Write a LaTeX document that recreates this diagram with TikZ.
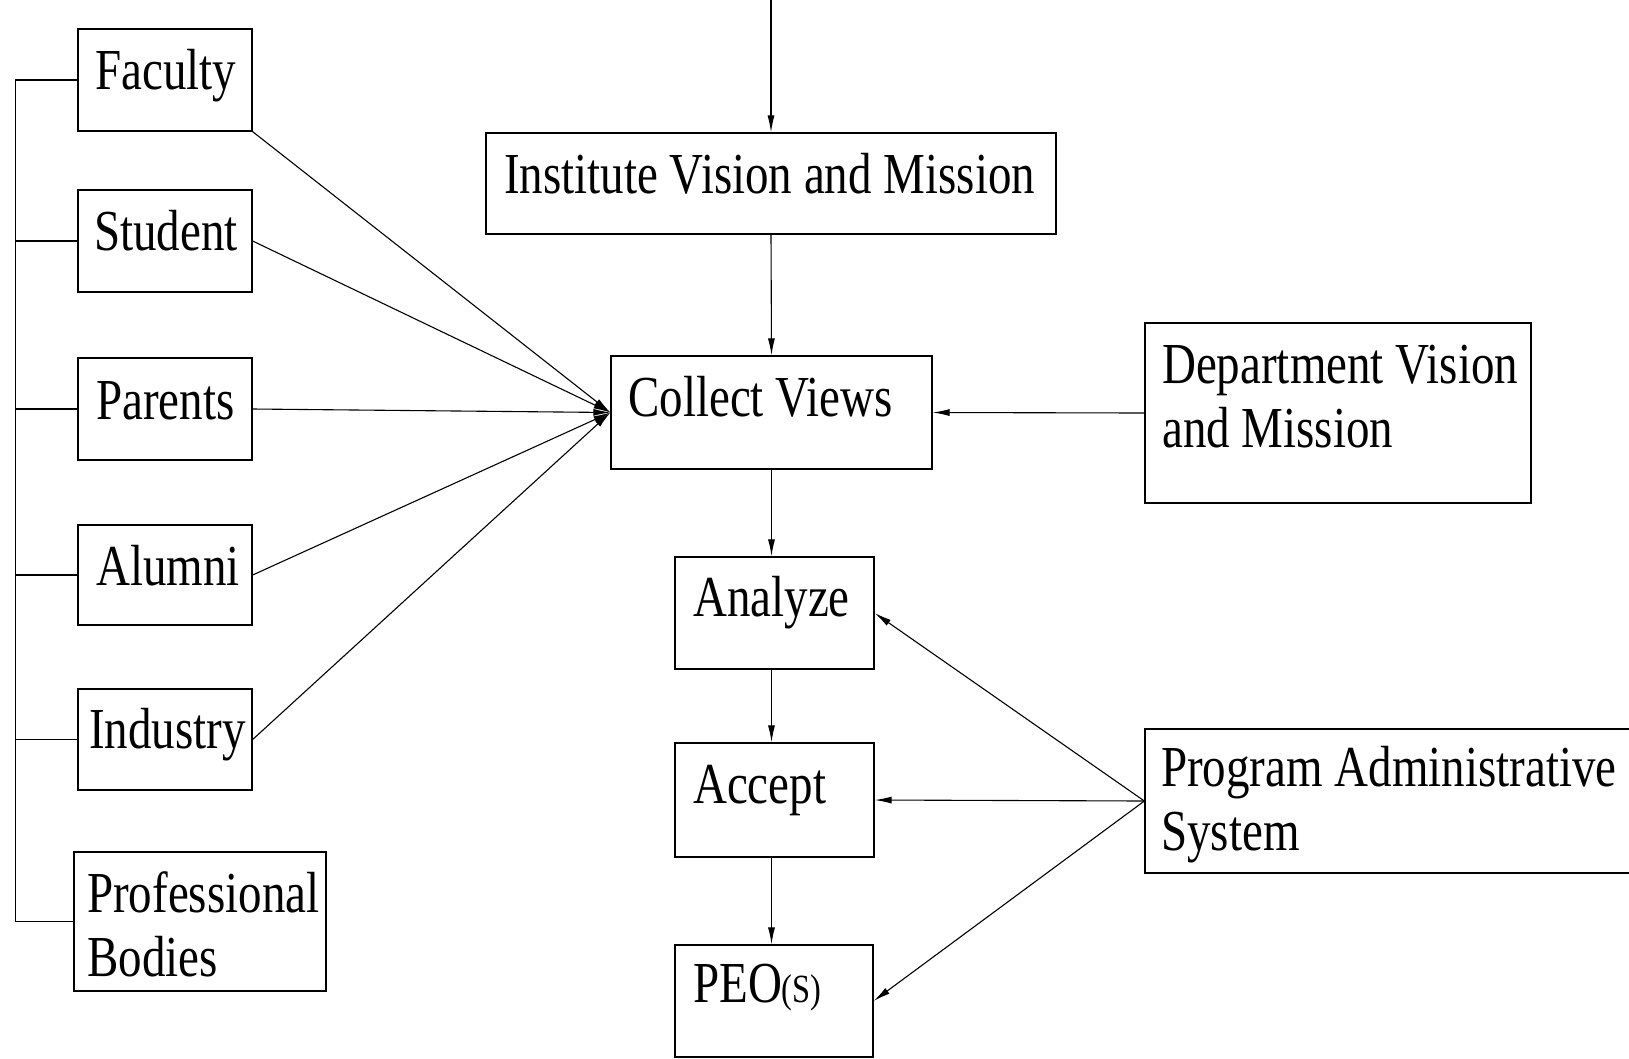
\documentclass[tikz,border=0pt]{standalone}
\usepackage{fontspec}
\setmainfont{Liberation Serif}[FakeStretch=0.81]
\usetikzlibrary{arrows.meta,calc}
\begin{document}
\begin{tikzpicture}[x=1pt,y=-1pt,
  box/.style={draw, line width=1.3pt, inner sep=0pt, minimum width=#1},
  lbl/.style={anchor=base west, inner sep=0pt, font=\fontsize{58}{64}\selectfont, align=left},
  conn/.style={line width=1.1pt},
  arr/.style={line width=1.1pt, -{Latex[length=17pt,width=7pt]}}]
\fill[white] (0,0) rectangle (1629,1058);
\useasboundingbox (0,0) rectangle (1629,1058);
\clip (0,0) rectangle (1629,1058);
% boxes
\node[box=174pt, minimum height=102pt] (fac) at (165,80) {};
\node[box=174pt, minimum height=102pt] (stu) at (165,241) {};
\node[box=174pt, minimum height=102pt] (par) at (165,409) {};
\node[box=174pt, minimum height=100pt] (alu) at (165,575) {};
\node[box=174pt, minimum height=101pt] (ind) at (165,739.5) {};
\node[box=252pt, minimum height=139pt] (pro) at (200,921.5) {};
\node[box=570pt, minimum height=101pt] (ivm) at (771,183.5) {};
\node[box=321pt, minimum height=113pt] (cv) at (771.5,412.5) {};
\node[box=386pt, minimum height=180pt] (dvm) at (1338,413) {};
\node[box=199pt, minimum height=112pt] (ana) at (774.5,613) {};
\node[box=199pt, minimum height=114pt] (acc) at (774.5,800) {};
\node[box=198pt, minimum height=112pt] (peo) at (774,1001) {};
\node[box=495pt, minimum height=144pt] (pas) at (1392.5,801) {};
% labels
\node[lbl] (tfac) at (95,89) {Faculty};
\node[lbl] (tstu) at (94,250) {Student};
\node[lbl] (tpar) at (96,419) {Parents};
\node[lbl] (talu) at (96,585) {Alumni};
\node[lbl] (tind) at (89,748) {Industry};
\node[lbl] (tpro) at (87,976) {Professional\\Bodies};
\node[lbl] (tivm) at (504,193) {Institute Vision and Mission};
\node[lbl] (tcv) at (628,416) {Collect Views};
\node[lbl] (tdvm) at (1162,447) {Department Vision\\and Mission};
\node[lbl] (tana) at (693,616) {Analyze};
\node[lbl] (tacc) at (693,803) {Accept};
\node[lbl] (tpeo) at (693,1002) {PEO{\fontsize{40}{40}\selectfont(S)}};
\node[lbl] (tpas) at (1161,850) {Program Administrative\\System};
% left bracket
\coordinate (brx) at (15.5,0);
\draw[conn] (fac.west) -- (fac.west -| brx) -- (pro.west -| brx) -- (pro.west);
\foreach \n in {stu,par,alu,ind}{\draw[conn] (\n.west) -- (\n.west -| brx);}
% stakeholders to collect views
\draw[arr] (fac.south east) -- (cv.west);
\draw[arr] (stu.east) -- (cv.west);
\draw[arr] (par.east) -- (cv.west);
\draw[arr] (alu.east) -- (cv.west);
\draw[arr] (ind.east) -- (cv.west);
% main chain
\coordinate (top) at (771,0);
\draw[arr] (top) -- (ivm.north);
\draw[arr] (ivm.south) -- (cv.north);
\draw[arr] (cv.south) -- (cv.south |- ana.north);
\draw[arr] (cv.south |- ana.south) -- (cv.south |- acc.north);
\draw[arr] (cv.south |- acc.south) -- (cv.south |- peo.north);
% right side
\draw[arr] (dvm.west) -- (cv.east);
\draw[arr] (pas.west) -- (ana.east);
\draw[arr] (pas.west) -- (acc.east);
\draw[arr] (pas.west) -- (peo.east);
\end{tikzpicture}
\end{document}
